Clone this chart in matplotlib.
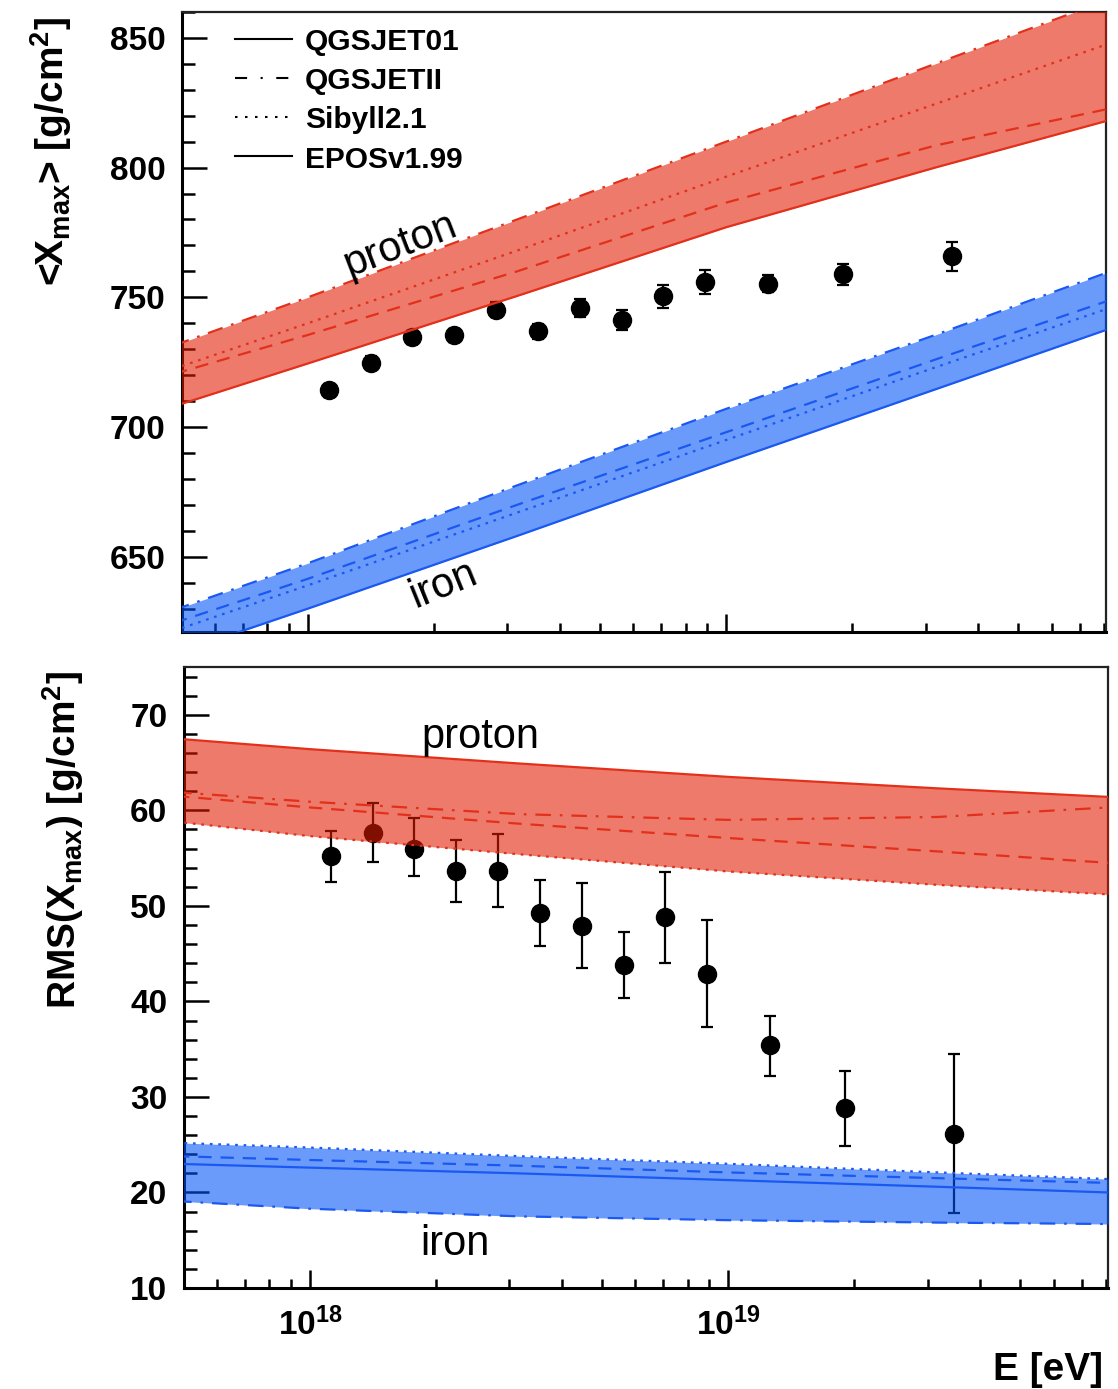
import numpy as np
import matplotlib
matplotlib.use("Agg")
import matplotlib.pyplot as plt
from matplotlib.ticker import MultipleLocator, LogLocator, FuncFormatter, NullFormatter

plt.rcParams['font.family'] = ['Liberation Sans', 'DejaVu Sans']
plt.rcParams['font.weight'] = 'bold'
plt.rcParams['mathtext.fontset'] = 'custom'
plt.rcParams['mathtext.rm'] = 'Liberation Sans'
plt.rcParams['mathtext.bf'] = 'Liberation Sans:bold'
plt.rcParams['mathtext.it'] = 'Liberation Sans:italic'

# ---------------- data ----------------
data_lgE = [18.05, 18.15, 18.25, 18.35, 18.45, 18.55, 18.65, 18.75, 18.85, 18.95, 19.10, 19.28, 19.54]
xmax_mean = [714.2, 724.8, 734.6, 735.4, 745.3, 736.9, 745.9, 741.2, 750.4, 755.8, 755.3, 758.8, 765.8]
xmax_err = [2.5, 2.5, 2.5, 2.5, 3.0, 3.0, 3.5, 3.8, 4.4, 4.7, 3.2, 4.2, 5.6]
rms_val = [55.2, 57.6, 56.0, 53.7, 53.7, 49.2, 47.9, 43.8, 48.8, 42.9, 35.4, 28.8, 26.1]
rms_err_lo = [2.7, 3.0, 2.9, 3.3, 3.8, 3.4, 4.4, 3.4, 4.8, 5.6, 3.2, 3.9, 8.2]
rms_err_hi = [2.6, 3.2, 3.2, 3.2, 3.8, 3.5, 4.5, 3.5, 4.7, 5.6, 3.1, 3.9, 8.4]

model_lgE = [17.68, 18.0, 18.5, 19.0, 19.5, 19.91]
model_names = ["QGSJET01", "QGSJETII", "Sibyll2.1", "EPOSv1.99"]

# <Xmax>
xmax_p_qgsjet01 = [720.5, 735.5, 760.0, 786.5, 808.5, 822.5]
xmax_p_qgsjetII = [731.5, 750.0, 780.0, 810.0, 840.0, 864.5]
xmax_p_sibyll = [722.5, 740.0, 768.0, 796.5, 824.5, 847.5]
xmax_p_epos = [708.0, 724.5, 750.5, 777.0, 800.0, 818.0]
xmax_fe_qgsjet01 = [624.5, 641.5, 670.0, 698.0, 726.0, 748.5]
xmax_fe_qgsjetII = [629.5, 647.5, 677.5, 707.0, 735.5, 759.5]
xmax_fe_sibyll = [621.5, 639.0, 667.0, 695.0, 723.0, 745.5]
xmax_fe_epos = [612.5, 630.0, 658.0, 686.5, 714.5, 737.5]

# RMS(Xmax)
rms_p_qgsjet01 = [61.5, 60.3, 58.6, 57.1, 55.7, 54.5]
rms_p_qgsjetII = [61.9, 60.9, 59.6, 59.0, 59.3, 60.3]
rms_p_sibyll = [58.8, 57.3, 55.4, 53.6, 52.2, 51.2]
rms_p_epos = [67.5, 66.4, 64.9, 63.5, 62.3, 61.4]
rms_fe_qgsjet01 = [23.8, 23.4, 22.8, 22.1, 21.5, 21.0]
rms_fe_qgsjetII = [19.1, 18.3, 17.5, 17.1, 16.85, 16.7]
rms_fe_sibyll = [25.2, 24.7, 23.8, 23.0, 22.1, 21.4]
rms_fe_epos = [23.0, 22.6, 22.0, 21.3, 20.6, 20.0]

# ---------------- styles ----------------
model_styles = [(0, (6, 4)), (0, (7, 4, 1.2, 4)), (0, (1.2, 2.6)), '-']
legend_styles = ['-', (0, (5.8, 6.5, 1.0, 6.5)), (0, (1.2, 3.6)), '-']
red_line = '#E2301A'
red_fill = '#E01A00'
blue_line = '#1A58F2'
blue_fill = '#0053F7'
band_alpha = 0.58

fig = plt.figure(figsize=(11.18, 13.89), dpi=100)
ax1 = fig.add_axes([0.1628, 0.5450, 0.8265, 0.4464])
ax2 = fig.add_axes([0.1646, 0.0727, 0.8265, 0.4471])

E_data = 10 ** np.array(data_lgE)
E_model = 10 ** np.array(model_lgE)


def draw_band(ax, curves, lcol, fcol):
    arr = np.array(curves)
    ax.fill_between(E_model, arr.min(axis=0), arr.max(axis=0), color=fcol,
                    alpha=band_alpha, lw=0, zorder=3)
    for c, ls in zip(curves, model_styles):
        ax.plot(E_model, c, color=lcol, ls=ls, lw=1.6, zorder=4)


# top panel
ax1.errorbar(E_data, xmax_mean, yerr=xmax_err, fmt='o', color='black', ms=13,
             elinewidth=1.6, capsize=4.5, capthick=1.6, zorder=2)
draw_band(ax1, [xmax_p_qgsjet01, xmax_p_qgsjetII, xmax_p_sibyll, xmax_p_epos], red_line, red_fill)
draw_band(ax1, [xmax_fe_qgsjet01, xmax_fe_qgsjetII, xmax_fe_sibyll, xmax_fe_epos], blue_line, blue_fill)

# bottom panel
ax2.errorbar(E_data, rms_val, yerr=[rms_err_lo, rms_err_hi], fmt='o', color='black', ms=13,
             elinewidth=1.6, capsize=4.5, capthick=1.6, zorder=2)
draw_band(ax2, [rms_p_qgsjet01, rms_p_qgsjetII, rms_p_sibyll, rms_p_epos], red_line, red_fill)
draw_band(ax2, [rms_fe_qgsjet01, rms_fe_qgsjetII, rms_fe_sibyll, rms_fe_epos], blue_line, blue_fill)

for ax in (ax1, ax2):
    ax.set_xscale('log')
    ax.set_xlim(5e17, 8.1e19)
    ax.xaxis.set_major_locator(LogLocator(base=10, numticks=10))
    ax.xaxis.set_minor_locator(LogLocator(base=10, subs=np.arange(2, 10), numticks=30))
    ax.xaxis.set_minor_formatter(NullFormatter())
    ax.tick_params(which='both', direction='in', top=False, right=False, colors='black')
    ax.tick_params(axis='y', which='major', length=18, width=1.8, pad=12, labelsize=24)
    ax.tick_params(axis='y', which='minor', length=9, width=1.8)
    ax.tick_params(axis='x', which='major', length=13, width=1.8, pad=14, labelsize=24)
    ax.tick_params(axis='x', which='minor', length=6.5, width=1.8)
    for s in ('left', 'bottom'):
        ax.spines[s].set_linewidth(2.2)
    for s in ('top', 'right'):
        ax.spines[s].set_linewidth(1.6)
        ax.spines[s].set_color('#222222')

ax1.set_ylim(621, 860)
ax1.yaxis.set_major_locator(MultipleLocator(50))
ax1.yaxis.set_minor_locator(MultipleLocator(10))
ax1.xaxis.set_major_formatter(NullFormatter())

ax2.set_ylim(10, 75)
ax2.yaxis.set_major_locator(MultipleLocator(10))
ax2.yaxis.set_minor_locator(MultipleLocator(2))
ax2.xaxis.set_major_formatter(FuncFormatter(lambda v, p: r'$\mathbf{10^{%d}}$' % round(np.log10(v))))

# band labels
ax1.text(10 ** 18.22, 770.0, 'proton', fontsize=30, fontweight='normal', rotation=21,
         ha='center', va='center', rotation_mode='anchor', zorder=6)
ax1.text(10 ** 18.324, 639.0, 'iron', fontsize=30, fontweight='normal', rotation=22,
         ha='center', va='center', rotation_mode='anchor', zorder=6)
ax2.text(10 ** 18.407, 67.7, 'proton', fontsize=30, fontweight='normal',
         ha='center', va='center', zorder=6)
ax2.text(10 ** 18.347, 14.6, 'iron', fontsize=30, fontweight='normal',
         ha='center', va='center', zorder=6)

# legend (drawn as in the original figure)
leg_rows = [0.957, 0.894, 0.831, 0.768]
for name, ls, yy in zip(model_names, legend_styles, leg_rows):
    ax1.plot([0.0574, 0.119], [yy, yy], transform=ax1.transAxes, color='black', ls=ls, lw=1.5,
             zorder=6, clip_on=False)
    ax1.text(0.133, yy - 0.006, name, transform=ax1.transAxes, fontsize=21.5, fontweight='bold',
             ha='left', va='center', zorder=6)

# axis titles
fig.text(0.0455, 0.8906, r'<X$_{\mathregular{max}}$> [g/cm$^{\mathbf{2}}$]', rotation=90,
         fontsize=28, fontweight='bold', ha='center', va='center')
fig.text(0.0560, 0.3952, r'RMS(X$_{\mathregular{max}}$) [g/cm$^{\mathbf{2}}$]', rotation=90,
         fontsize=28, fontweight='bold', ha='center', va='center')
fig.text(1103 / 1118, 0.0065, 'E [eV]', fontsize=28, fontweight='bold', ha='right', va='baseline')

fig.savefig('out.png', dpi=100)
